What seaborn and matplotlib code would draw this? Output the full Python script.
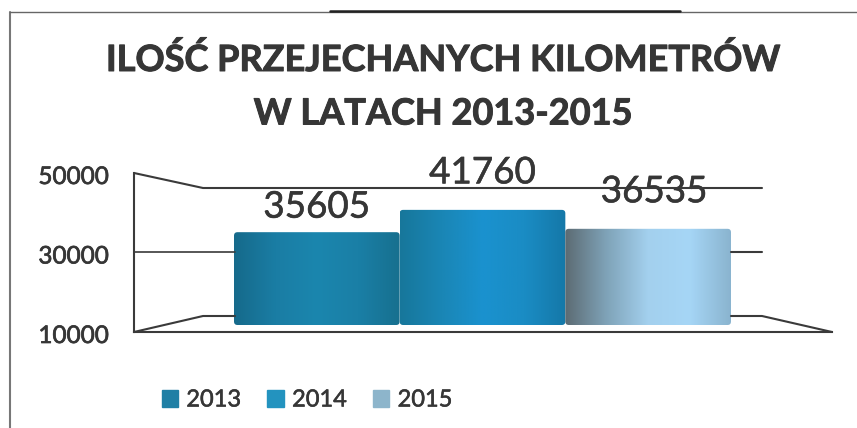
import numpy as np
import seaborn as sns
import matplotlib.pyplot as plt
import matplotlib.patheffects as pe
from matplotlib.colors import LinearSegmentedColormap
from matplotlib.lines import Line2D
from matplotlib.patches import FancyBboxPatch, Patch
from matplotlib.transforms import ScaledTranslation

years = ['2013', '2014', '2015']
km = [35605, 41760, 36535]
y_ticks = [10000, 30000, 50000]
legend_colors = ['#1f7fa5', '#2393bf', '#8db5cb']
# dark edge, mid, highlight, edge of each cylinder
shades = [
    ['#166a8b', '#1a7da4', '#1b86ae', '#1a7fa6', '#17708f'],
    ['#17779b', '#1a86b5', '#1a92cf', '#1a8cc4', '#1578a8'],
    ['#5c6b73', '#7fa3b8', '#a3d0ee', '#a6d6f6', '#8ab4cf'],
]
# hand placed labels in the original: px above the bar top, px right of bar centre
label_up = [25, 37, 37]
label_right = [0, 0, 6]
W, H = 857, 428
ink = '#3a3a3a'
text_ink = '#363636'

sns.set_theme(style='white')
plt.rcParams['font.family'] = ['Lato', 'DejaVu Sans']


def box(x0, y0, x1, y1):
    return [x0 / W, 1 - y1 / H, (x1 - x0) / W, (y1 - y0) / H]


def frame(xs, ys, lw=1.5, color=ink):
    fig.add_artist(Line2D([x / W for x in xs], [1 - y / H for y in ys], lw=lw, color=color))


def heavy(width):
    return [pe.withStroke(linewidth=width, foreground=text_ink)]


fig = plt.figure(figsize=(W / 100, H / 100), dpi=100)

# front plane of the fake 3d box carries the value axis
ax_front = fig.add_axes(box(134, 173, 832, 332))
ax_front.set_ylim(10000, 50000)
ax_front.set_xticks([])
ax_front.set_yticks(y_ticks)
ax_front.tick_params(axis='y', length=0, pad=18, labelsize=17.5, labelcolor=text_ink)
shift = ScaledTranslation(0, -2.5 / 100, fig.dpi_scale_trans)
for t in ax_front.get_yticklabels():
    t.set_path_effects(heavy(0.5))
    t.set_transform(t.get_transform() + shift)
ax_front.patch.set_alpha(0)
for s in ['top', 'right']:
    ax_front.spines[s].set_visible(False)
for s in ['left', 'bottom']:
    ax_front.spines[s].set_color(ink)
    ax_front.spines[s].set_linewidth(1.5)

# back wall and floor
frame([134, 203, 762], [173, 188, 188])
frame([134, 235], [252, 252], lw=1.2)
frame([731, 762], [252, 252])
frame([134, 203, 235], [332, 316, 316])
frame([731, 762, 832], [316, 316, 332])

# bars
ax = fig.add_axes(box(234, 180, 731, 325))
sns.barplot(x=years, y=km, hue=years, palette=legend_colors, legend=False, width=1, ax=ax)
ax.set_ylim(10000, 50000)
ax.set_xlim(-0.5, 2.5)
ax.axis('off')
ax.patch.set_alpha(0)
px_y = 40000 / 145  # data units per pixel
px_x = 3 / 497
for bar, shade, value, up, right in zip(ax.patches, shades, km, label_up, label_right):
    x0, w, top = bar.get_x(), bar.get_width(), bar.get_height()
    bar.set_visible(False)
    cmap = LinearSegmentedColormap.from_list('cyl', shade)
    grad = np.linspace(0, 1, 256).reshape(1, -1)
    img = ax.imshow(grad, cmap=cmap, extent=[x0, x0 + w, 10000, top], aspect='auto', zorder=3)
    r = 3.5 * px_x
    ry = 3.5 * px_y
    rounded = FancyBboxPatch((x0 + r, 10000 + ry), w - 2 * r, top - 10000 - 2 * ry,
                             boxstyle=f'round,pad={r},rounding_size={r}', mutation_aspect=ry / r,
                             transform=ax.transData, fc='none', ec='none')
    ax.add_patch(rounded)
    img.set_clip_path(rounded)
    ax.text(x0 + w / 2 + right * px_x, top + up * px_y, str(value), ha='center', va='center',
            fontsize=26.5, color=text_ink, zorder=5, clip_on=False, path_effects=heavy(0.4))
ax.set_xlim(-0.5, 2.5)
ax.set_ylim(10000, 50000)

for line, y in zip(['ILOŚĆ PRZEJECHANYCH KILOMETRÓW', 'W LATACH 2013-2015'], [60, 114]):
    fig.text(443 / W, 1 - y / H, line, ha='center', va='center', fontsize=26, fontweight='bold',
             color=text_ink, path_effects=heavy(0.7))

handles = [Patch(color=c, label=y) for c, y in zip(legend_colors, years)]
leg = fig.legend(handles=handles, loc='center', bbox_to_anchor=(307 / W, 1 - 400 / H), ncol=3, frameon=False,
                 fontsize=17, handlelength=0.7, handleheight=0.7, handletextpad=0.35, columnspacing=1.1,
                 labelcolor=text_ink)
for t in leg.get_texts():
    t.set_path_effects(heavy(0.4))

# scanned page border
frame([10, 10], [12, 428], lw=1.5, color='#777777')
frame([10, 857], [12, 12], lw=1, color='#666666')
frame([330, 680], [11, 11], lw=1.8, color='#222222')

fig.savefig('out.png', dpi=100)
